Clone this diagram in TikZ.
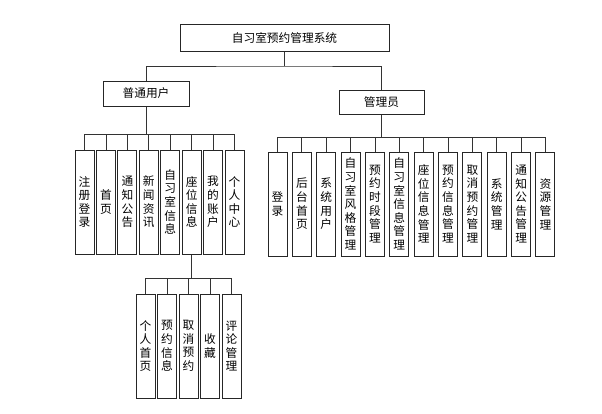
\documentclass[tikz,border=0pt]{standalone}
\usepackage{fontspec}
\newfontfamily\cjk{Noto Sans CJK SC}
\begin{document}
\begin{tikzpicture}[x=1pt,y=-1pt,
  box/.style={draw=black!85, line width=1pt, fill=white, inner sep=0pt,
    font=\cjk\fontsize{11.7}{13.6}\selectfont},
  vbox/.style={box, minimum width=19pt, minimum height=104pt, align=center},
  conn/.style={draw=black!80, line width=0.8pt}]
\useasboundingbox (0,0) rectangle (602,413);

% top levels
\node[box, minimum width=209pt, minimum height=27pt] (root) at (284.5,37.5) {自习室预约管理系统};
\node[box, minimum width=86pt, minimum height=25pt] (user) at (146,93.5) {普通用户};
\node[box, minimum width=85pt, minimum height=24pt] (admin) at (381.5,102) {管理员};

% user children
\foreach \t [count=\i from 0] in {{注\\册\\登\\录},{首\\页},{通\\知\\公\\告},{新\\闻\\资\\讯},{自\\习\\室\\信\\息},{座\\位\\信\\息},{我\\的\\账\\户},{个\\人\\中\\心}}
  \node[vbox] (u\i) at (84.5+21.43*\i,202) {\t};

% admin children
\foreach \t [count=\i from 0] in {{登\\录},{后\\台\\首\\页},{系\\统\\用\\户},{自\\习\\室\\风\\格\\管\\理},{预\\约\\时\\段\\管\\理},{自\\习\\室\\信\\息\\管\\理},{座\\位\\信\\息\\管\\理},{预\\约\\信\\息\\管\\理},{取\\消\\预\\约\\管\\理},{系\\统\\管\\理},{通\\知\\公\\告\\管\\理},{资\\源\\管\\理}}
  \node[vbox] (a\i) at (277.5+24.36*\i,204) {\t};

% sub children of 座位信息
\foreach \t [count=\i from 0] in {{个\\人\\首\\页},{预\\约\\信\\息},{取\\消\\预\\约},{收\\藏},{评\\论\\管\\理}}
  \node[vbox] (s\i) at (145.5+21.5*\i,346) {\t};

% connectors
\coordinate (rb) at (root.south |- 0,66);
\draw[conn] (root.south) -- (rb);
\draw[conn] (user.north) |- (rb) -| (admin.north);

\coordinate (ub) at (user.south |- 0,134);
\draw[conn] (user.south) -- (ub);
\foreach \i in {0,...,7} \draw[conn] (u\i.north) |- (ub);

\coordinate (ab) at (admin.south |- 0,137);
\draw[conn] (admin.south) -- (ab);
\foreach \i in {0,...,11} \draw[conn] (a\i.north) |- (ab);

\coordinate (sb) at (u5.south |- 0,278);
\draw[conn] (u5.south) -- (sb);
\foreach \i in {0,...,4} \draw[conn] (s\i.north) |- (sb);
\end{tikzpicture}
\end{document}
